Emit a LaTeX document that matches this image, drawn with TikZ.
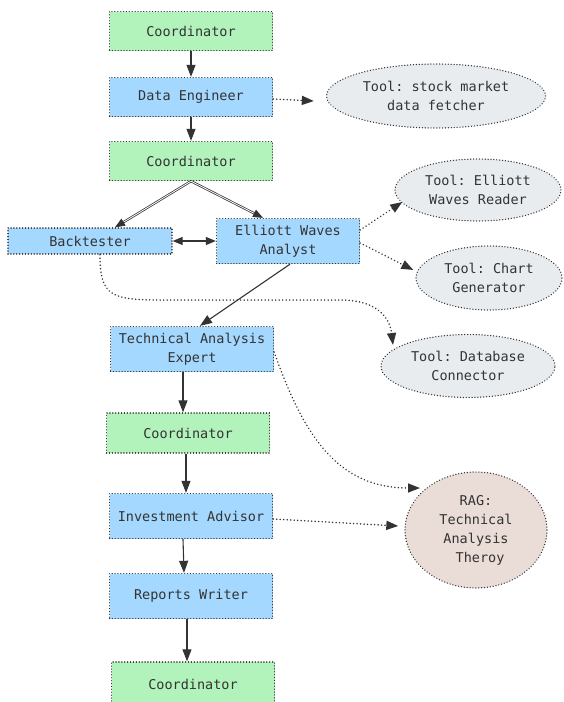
\documentclass[tikz,border=0pt]{standalone}
\usepackage{fontspec}
\setmonofont{DejaVu Sans Mono}
\usetikzlibrary{arrows.meta,shapes.geometric}
\definecolor{cgreen}{HTML}{B2F2BB}
\definecolor{cblue}{HTML}{A5D8FF}
\definecolor{cgray}{HTML}{E9ECEF}
\definecolor{crag}{HTML}{EADDD7}
\definecolor{cline}{HTML}{333333}
\begin{document}
\begin{tikzpicture}[x=1pt,y=-1pt,
  font=\ttfamily\fontsize{13.5}{19}\selectfont,
  base/.style={draw=cline, dash pattern=on 0.1pt off 2.8pt, line cap=round, line width=1.35pt, text=cline, align=center, inner sep=0pt},
  coordbox/.style={base, fill=cgreen, minimum width=163pt, minimum height=39pt},
  agentbox/.style={base, fill=cblue, minimum width=163pt, minimum height=45pt},
  toolell/.style={base, ellipse, fill=cgray},
  ragell/.style={base, ellipse, fill=crag, minimum width=142pt, minimum height=116pt},
  tip/.style={-{Triangle[length=12pt,width=9pt]}},
  arr/.style={draw=cline, line width=1.1pt, tip},
  dblarr/.style={draw=cline, line width=0.75pt, double=white, double distance=0.8pt, -{Triangle[length=10pt,width=8pt]}},
  dotarr/.style={draw=cline, dash pattern=on 0.1pt off 3.4pt, line cap=round, line width=1.6pt, tip}
]
\useasboundingbox (0,0) rectangle (564,702);

% agents and coordinators
\node[coordbox] (c1) at (191,31) {Coordinator};
\node[agentbox, minimum height=39pt] (de) at (191,97) {Data Engineer};
\node[coordbox] (c2) at (191,161) {Coordinator};
\node[agentbox, minimum width=164pt, minimum height=26pt] (bt) at (90,241) {Backtester};
\node[agentbox, minimum width=143pt] (ew) at (288,241) {Elliott Waves\\Analyst};
\node[agentbox] (tae) at (192,349) {Technical Analysis\\Expert};
\node[coordbox, minimum height=40pt] (c3) at (188,433) {Coordinator};
\node[agentbox] (ia) at (191,516) {Investment Advisor};
\node[agentbox] (rw) at (191,596) {Reports Writer};
\node[coordbox, minimum height=44pt] (c4) at (193,684) {Coordinator};

% tools
\node[toolell, minimum width=219pt, minimum height=64pt] (sf) at (436,96) {Tool: stock market\\data fetcher};
\node[toolell, minimum width=166pt, minimum height=62pt] (ewr) at (478,190) {Tool: Elliott\\Waves Reader};
\node[toolell, minimum width=146pt, minimum height=64pt] (cg) at (489,278) {Tool: Chart\\Generator};
\node[toolell, minimum width=174pt, minimum height=63pt] (db) at (468,366) {Tool: Database\\Connector};
\node[ragell] (rag) at (476,530) {RAG:\\Technical\\Analysis\\\ Theroy};

% main flow
\draw[arr] (c1.south) -- (de.north);
\draw[arr] (de.south) -- (c2.north);
\draw[dblarr] (c2.south) -- ([xshift=25pt]bt.north);
\draw[dblarr] (c2.south) -- ([xshift=-25pt]ew.north);
\draw[draw=cline, line width=1.1pt, {Triangle[length=10pt,width=8pt]}-{Triangle[length=10pt,width=8pt]}] (bt.east) -- (ew.west);
\draw[arr] ([xshift=2pt]ew.south) -- ([xshift=8pt]tae.north);
\draw[arr] ([xshift=-9pt]tae.south) -- ([xshift=-5pt]c3.north);
\draw[arr] ([xshift=-2pt]c3.south) -- ([xshift=-5pt]ia.north);
\draw[arr] ([xshift=-8pt]ia.south) -- ([xshift=-7pt]rw.north);
\draw[arr] ([xshift=-4pt]rw.south) -- ([xshift=-6pt]c4.north);

% tool calls
\draw[dotarr] ([yshift=-2pt]de.east) -- ([xshift=-12pt,yshift=-5pt]sf.west);
\draw[dotarr] ([yshift=11pt]ew.east) -- ([xshift=8pt,yshift=-12pt]ewr.west);
\draw[dotarr] ([yshift=-2pt]ew.east) -- ([xshift=-2pt,yshift=8pt]cg.west);
\draw[dotarr] ([xshift=10pt]bt.south) .. controls (100,295) and (110,300) .. (160,300)
  -- (340,300) .. controls (380,300) and (390,320) .. ([xshift=-75pt,yshift=21pt]db.center);
\draw[dotarr] ([yshift=-3pt]tae.east) .. controls (305,440) and (340,488) .. ([xshift=-56pt,yshift=42pt]rag.center);
\draw[dotarr] ([yshift=-3pt]ia.east) -- ([xshift=-6pt,yshift=4pt]rag.west);
\end{tikzpicture}
\end{document}
